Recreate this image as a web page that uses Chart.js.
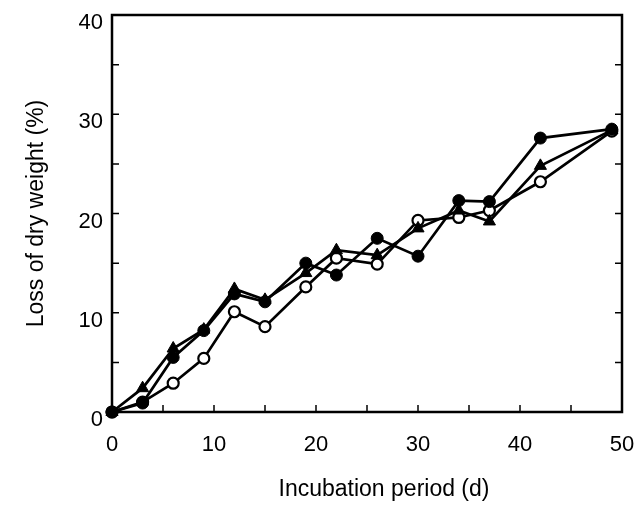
<!DOCTYPE html>
<html>
<head>
<meta charset="utf-8">
<script src="https://cdn.jsdelivr.net/npm/chart.js@4"></script>
<style>
  html, body { margin: 0; padding: 0; background: #fff; }
  #wrap { width: 636px; height: 512px; }
</style>
</head>
<body>
<div id="wrap"><canvas id="myChart" width="636" height="512"></canvas></div>
<script>
const days = [0, 3, 6, 9, 12, 15, 19, 22, 26, 30, 34, 37, 42, 49];
const filledCircle = [0, 0.9, 5.5, 8.2, 11.9, 11.1, 15.0, 13.8, 17.5, 15.7, 21.3, 21.2, 27.6, 28.5];
const triangle = [0, 2.4, 6.4, 8.3, 12.4, 11.3, 14.0, 16.3, 15.8, 18.5, 20.3, 19.2, 24.8, 28.4];
const openCircle = [0, 1.0, 2.9, 5.4, 10.1, 8.6, 12.6, 15.5, 14.9, 19.3, 19.6, 20.3, 23.2, 28.3];
const xTicks = [0, 10, 20, 30, 40, 50];
const yTicks = [0, 10, 20, 30, 40];

const font = "'Liberation Sans', Arial, Helvetica, sans-serif";
const xTitle = "Incubation period (d)";

function points(values) {
  return days.map((d, i) => ({ x: d, y: values[i] }));
}

// box round the plot with short inward tick marks
const frameTicks = {
  id: "frameTicks",
  beforeDatasetsDraw(chart) {
    const { ctx, chartArea: a, scales } = chart;
    const len = 7;
    ctx.save();
    ctx.strokeStyle = "#000";
    ctx.lineWidth = 1.5;
    scales.x.ticks.forEach((t) => {
      const px = scales.x.getPixelForValue(t.value);
      ctx.beginPath();
      ctx.moveTo(px, a.bottom);
      ctx.lineTo(px, a.bottom - len);
      ctx.stroke();
    });
    scales.y.ticks.forEach((t) => {
      const py = scales.y.getPixelForValue(t.value);
      ctx.beginPath();
      ctx.moveTo(a.left, py);
      ctx.lineTo(a.left + len, py);
      ctx.moveTo(a.right, py);
      ctx.lineTo(a.right - len, py);
      ctx.stroke();
    });
    ctx.lineWidth = 2.5;
    ctx.strokeRect(a.left, a.top, a.right - a.left, a.bottom - a.top);
    ctx.restore();
  },
  // x title sits a little right of the plot centre
  afterDraw(chart) {
    const { ctx, chartArea: a } = chart;
    ctx.save();
    ctx.fillStyle = "#000";
    ctx.font = "23px " + font;
    ctx.textAlign = "center";
    ctx.textBaseline = "middle";
    ctx.fillText(xTitle, (a.left + a.right) / 2 + 17, 490);
    ctx.restore();
  },
};

const common = {
  borderColor: "#000",
  borderWidth: 2.7,
  tension: 0,
  fill: false,
  clip: false,
  pointBorderColor: "#000",
};

const data = {
  datasets: [
    {
      ...common,
      label: "filled circle",
      data: points(filledCircle),
      pointStyle: "circle",
      pointRadius: 6,
      pointBackgroundColor: "#000",
      pointBorderWidth: 1,
    },
    {
      ...common,
      label: "triangle",
      data: points(triangle),
      pointStyle: "triangle",
      pointRadius: 7,
      pointBackgroundColor: "#000",
      pointBorderWidth: 1,
    },
    {
      ...common,
      label: "open circle",
      data: points(openCircle),
      pointStyle: "circle",
      pointRadius: 5.5,
      pointBackgroundColor: "#fff",
      pointBorderWidth: 2.2,
    },
  ],
};

const options = {
  responsive: false,
  animation: false,
  layout: { padding: { top: 15, right: 14, left: 0, bottom: 0 } },
  plugins: {
    legend: { display: false },
    tooltip: { enabled: false },
  },
  scales: {
    x: {
      type: "linear",
      min: 0,
      max: 50,
      afterFit: (s) => {
        s.height = 100;
        s.paddingLeft = 0;
        s.paddingRight = 0;
      },
      grid: { display: false, drawTicks: false },
      border: { display: false },
      ticks: {
        stepSize: 5,
        autoSkip: false,
        maxRotation: 0,
        padding: 20,
        color: "#000",
        font: { family: font, size: 22 },
        callback: (v) => (xTicks.includes(v) ? v : ""),
      },
    },
    y: {
      min: 0,
      max: 40,
      afterFit: (s) => {
        s.width = 112;
        s.paddingTop = 0;
        s.paddingBottom = 0;
      },
      grid: { display: false, drawTicks: false },
      border: { display: false },
      ticks: {
        stepSize: 5,
        autoSkip: false,
        padding: 9,
        labelOffset: 8,
        color: "#000",
        font: { family: font, size: 22 },
        callback: (v) => (yTicks.includes(v) ? v : ""),
      },
      title: {
        display: true,
        text: "Loss of dry weight (%)",
        color: "#000",
        font: { family: font, size: 23 },
        padding: { top: 23, bottom: 0 },
      },
    },
  },
};

new Chart(document.getElementById("myChart").getContext("2d"), {
  type: "line",
  data: data,
  options: options,
  plugins: [frameTicks],
});
</script>
</body>
</html>
